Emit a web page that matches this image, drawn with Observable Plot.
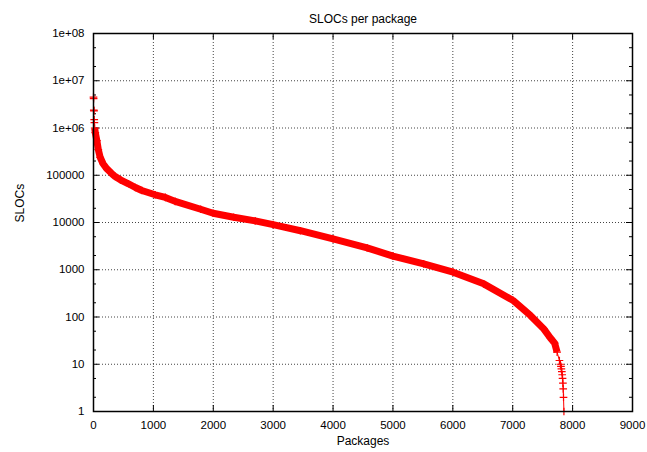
<!DOCTYPE html>
<html>
<head>
<meta charset="utf-8">
<script src="https://cdn.jsdelivr.net/npm/d3@7"></script>
<script src="https://cdn.jsdelivr.net/npm/@observablehq/plot@0.6"></script>
<style>
  html, body { margin: 0; padding: 0; background: #fff; }
  svg { display: block; }
</style>
</head>
<body>
<div id="chart"></div>
<script>
const titleText = "SLOCs per package";
const xLabel = "Packages";
const yLabel = "SLOCs";

// Package rank (sorted by size) and SLOC count
const packages = [0, 2, 5, 8, 12, 15, 20, 30, 56, 80, 111, 160, 223, 300, 362, 450, 584, 700, 807, 1030, 1200, 1364, 1790, 1998, 2342, 2700, 3000, 3456, 4000, 4569, 5000, 5514, 6005, 6516, 7006, 7295, 7518, 7629, 7700, 7741, 7780, 7796, 7805, 7812, 7820, 7826, 7832, 7838, 7843, 7848, 7855];
const slocs = [4500000, 4200000, 2400000, 2300000, 1500000, 1300000, 1000000, 800000, 540000, 350000, 240000, 175000, 137000, 110000, 94000, 80000, 66000, 55000, 47600, 38600, 34000, 28000, 19100, 15700, 12900, 10800, 9000, 6700, 4500, 2900, 1950, 1330, 887, 503, 224, 108, 56, 36, 28, 18, 12, 10, 9, 8, 7, 6, 5, 4, 3, 2, 1];

const xTicks = [0, 1000, 2000, 3000, 4000, 5000, 6000, 7000, 8000, 9000];
const yTicks = [1, 10, 100, 1000, 10000, 100000, 1000000, 10000000, 100000000];
const yTickLabels = ["1", "10", "100", "1000", "10000", "100000", "1e+06", "1e+07", "1e+08"];
const yMinorTicks = [2, 5, 20, 50, 200, 500, 2000, 5000, 20000, 50000, 200000, 500000, 2000000, 5000000, 20000000, 50000000];

const data = packages.map((p, i) => ({p, s: slocs[i]}));
const dense = data.filter(d => d.s <= 1000000 && d.s >= 18);
const tail = data.filter(d => d.s <= 18);

const W = 647, H = 452;
const mL = 93, mR = 15, mT = 33, mB = 41;
const fw = W - mL - mR, fh = H - mT - mB;
const labelMap = new Map(yTicks.map((t, i) => [t, yTickLabels[i]]));

const chart = Plot.plot({
  width: W, height: H,
  marginLeft: mL, marginRight: mR, marginTop: mT, marginBottom: mB,
  style: {fontFamily: "'Liberation Sans', Arial, sans-serif", fontSize: "11.5px", color: "#000", background: "#fff"},
  x: {domain: [0, 9000]},
  y: {type: "log", domain: [1, 1e8]},
  marks: [
    Plot.gridX(xTicks.slice(1, -1), {stroke: "#444", strokeOpacity: 1, strokeDasharray: "1,2"}),
    Plot.gridY(yTicks.slice(1, -1), {stroke: "#444", strokeOpacity: 1, strokeDasharray: "1,2"}),
    Plot.axisX(xTicks, {tickSize: 0, tickPadding: 9, tickFormat: d => String(d), label: null, fontSize: 11.5}),
    Plot.axisY(yTicks, {tickSize: 0, tickPadding: 9, tickFormat: d => labelMap.get(d), label: null, fontSize: 11.5}),
    // inward ticks
    Plot.tickY(yTicks, {y: d => d, insetRight: fw - 6, stroke: "#000"}),
    Plot.tickY(yTicks, {y: d => d, insetLeft: fw - 6, stroke: "#000"}),
    Plot.tickY(yMinorTicks, {y: d => d, insetRight: fw - 3, stroke: "#000"}),
    Plot.tickY(yMinorTicks, {y: d => d, insetLeft: fw - 3, stroke: "#000"}),
    Plot.tickX(xTicks, {x: d => d, insetTop: fh - 6, stroke: "#000"}),
    Plot.tickX(xTicks, {x: d => d, insetBottom: fh - 6, stroke: "#000"}),
    // data
    Plot.line(dense, {x: "p", y: "s", stroke: "#ff0000", strokeWidth: 7, strokeLinecap: "butt"}),
    Plot.line(tail, {x: "p", y: "s", stroke: "#ff0000", strokeWidth: 1}),
    Plot.dot(data, {x: "p", y: "s", symbol: "plus", r: 2.6, stroke: "#ff0000", strokeWidth: 1.2}),
    Plot.frame({stroke: "#000", strokeWidth: 1.5}),
    Plot.text([titleText], {frameAnchor: "top", dy: -19, fontSize: 12}),
    Plot.text([xLabel], {frameAnchor: "bottom", dy: 33, fontSize: 12}),
    Plot.text([yLabel], {frameAnchor: "left", dx: -73, rotate: -90, fontSize: 12})
  ]
});
document.getElementById("chart").appendChild(chart);
</script>
</body>
</html>
